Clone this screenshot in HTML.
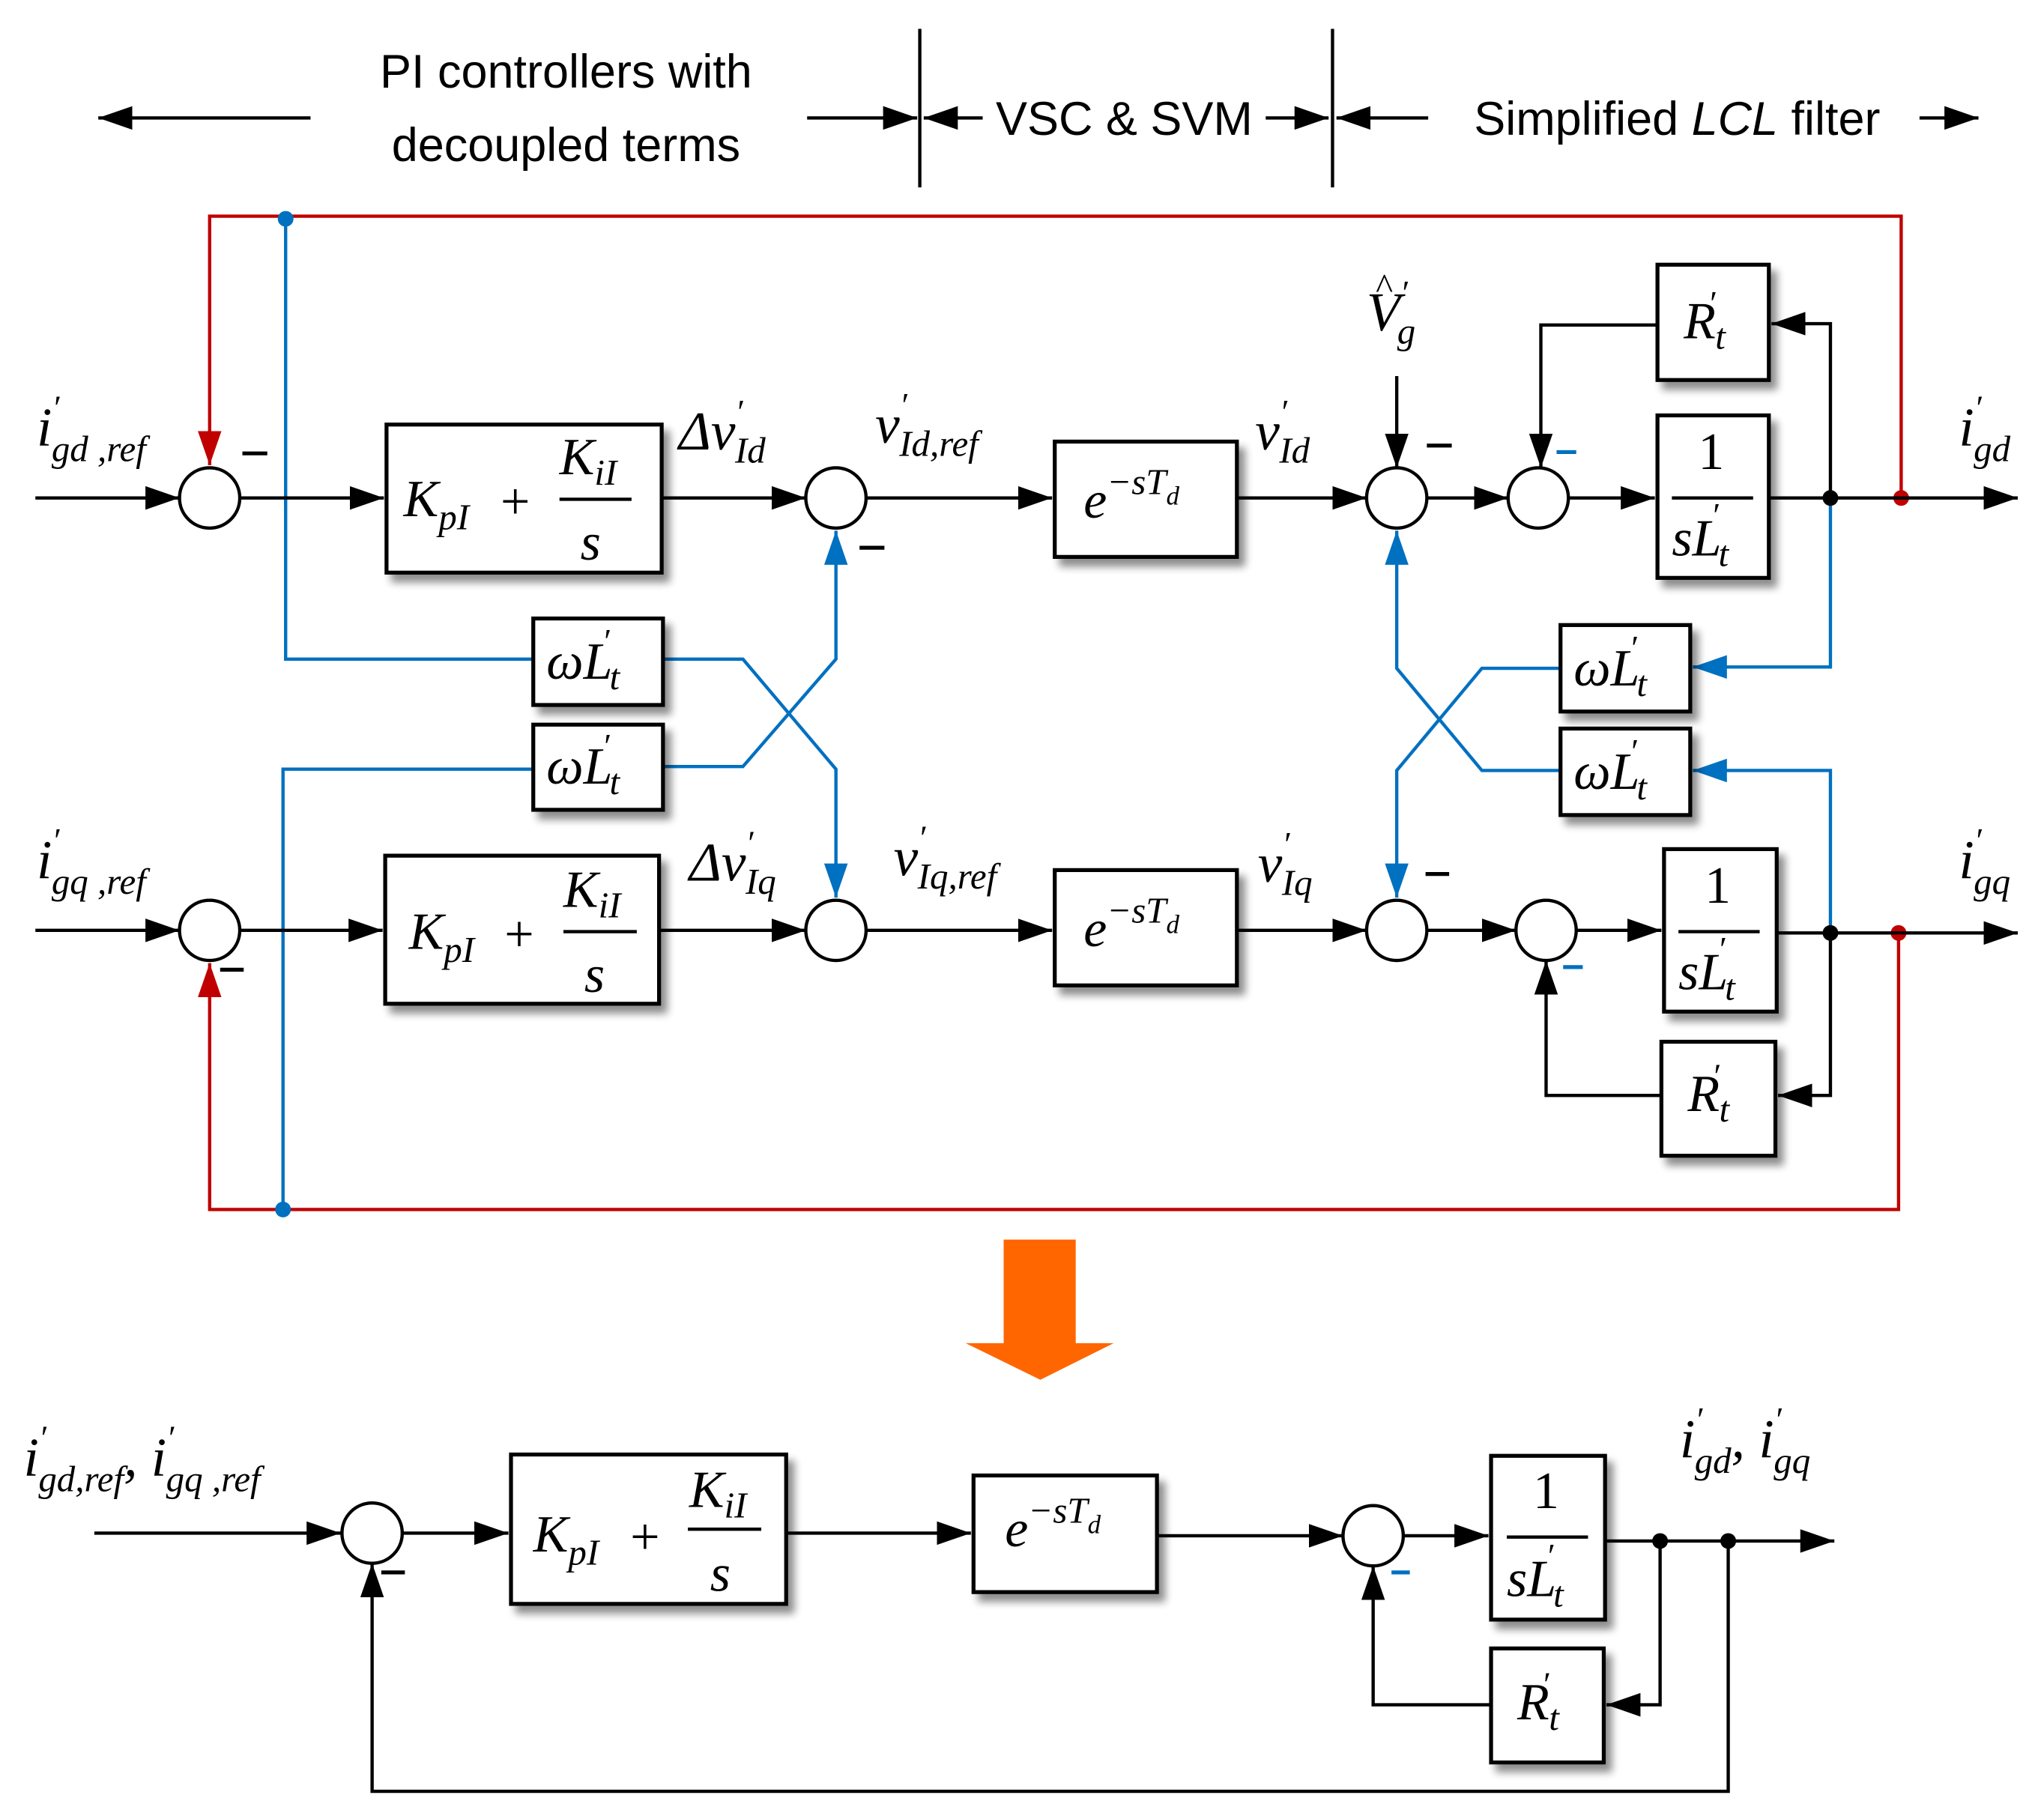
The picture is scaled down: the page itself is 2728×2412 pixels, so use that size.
<!DOCTYPE html>
<html><head><meta charset="utf-8"><style>
html,body{margin:0;padding:0;background:#fff}
svg{display:block}
.t{font-family:"Liberation Serif",serif;font-style:italic;fill:#000}
.s{font-family:"Liberation Sans",sans-serif;fill:#000}
</style></head><body>
<svg width="2728" height="2412" viewBox="0 0 1560 1379" preserveAspectRatio="none" xmlns="http://www.w3.org/2000/svg">
<defs>
<marker id="a" viewBox="0 0 26 18" refX="26" refY="9" markerWidth="26" markerHeight="18" orient="auto" markerUnits="userSpaceOnUse"><path d="M0,0L26,9L0,18z" fill="#000"/></marker>
<marker id="ab" viewBox="0 0 26 18" refX="26" refY="9" markerWidth="26" markerHeight="18" orient="auto" markerUnits="userSpaceOnUse"><path d="M0,0L26,9L0,18z" fill="#0070c0"/></marker>
<marker id="ar" viewBox="0 0 26 18" refX="26" refY="9" markerWidth="26" markerHeight="18" orient="auto" markerUnits="userSpaceOnUse"><path d="M0,0L26,9L0,18z" fill="#c00000"/></marker>
<filter id="sh" x="-10%" y="-10%" width="130%" height="130%"><feGaussianBlur in="SourceAlpha" stdDeviation="3"/><feOffset dx="5" dy="6"/><feComponentTransfer><feFuncA type="linear" slope="0.45"/></feComponentTransfer><feMerge><feMergeNode/><feMergeNode in="SourceGraphic"/></feMerge></filter>
</defs>

<g stroke="#000" stroke-width="2.5" fill="none">
<line x1="237" y1="90" x2="75" y2="90" marker-end="url(#a)"/>
<line x1="616" y1="90" x2="700" y2="90" marker-end="url(#a)"/>
<line x1="702" y1="22" x2="702" y2="143"/>
<line x1="1017" y1="22" x2="1017" y2="143"/>
<line x1="750" y1="90" x2="705" y2="90" marker-end="url(#a)"/>
<line x1="966" y1="90" x2="1014" y2="90" marker-end="url(#a)"/>
<line x1="1090" y1="90" x2="1020" y2="90" marker-end="url(#a)"/>
<line x1="1465" y1="90" x2="1510" y2="90" marker-end="url(#a)"/>
</g>
<text class="s" x="432" y="67" font-size="36" text-anchor="middle">PI controllers with</text>
<text class="s" x="432" y="123" font-size="36" text-anchor="middle">decoupled terms</text>
<text class="s" x="858" y="103" font-size="36" text-anchor="middle">VSC &amp; SVM</text>
<text class="s" x="1280" y="103" font-size="36" text-anchor="middle">Simplified <tspan font-style="italic">LCL</tspan> filter</text>

<g stroke="#c00000" stroke-width="2.5" fill="none">
<polyline points="1451,380 1451,165 160,165 160,355" marker-end="url(#ar)"/>
<polyline points="1449,712 1449,923 160,923 160,735" marker-end="url(#ar)"/>
</g>
<circle cx="1451" cy="380" r="6" fill="#c00000"/>
<circle cx="1449" cy="712" r="6" fill="#c00000"/>

<g stroke="#0070c0" stroke-width="2.5" fill="none">
<polyline points="218,167 218,503 407,503"/>
<polyline points="407,587 216,587 216,923"/>
<polyline points="506,503 567,503 638,587 638,685" marker-end="url(#ab)"/>
<polyline points="506,585 567,585 638,503 638,405" marker-end="url(#ab)"/>
<polyline points="1397,380 1397,509 1292,509" marker-end="url(#ab)"/>
<polyline points="1397,712 1397,588 1292,588" marker-end="url(#ab)"/>
<polyline points="1191,510 1131,510 1066,588 1066,685" marker-end="url(#ab)"/>
<polyline points="1191,588 1131,588 1066,510 1066,405" marker-end="url(#ab)"/>
</g>
<circle cx="218" cy="167" r="6" fill="#0070c0"/>
<circle cx="216" cy="923" r="6" fill="#0070c0"/>

<g stroke="#000" stroke-width="2.5" fill="none">
<line x1="27" y1="380" x2="137" y2="380" marker-end="url(#a)"/>
<line x1="183" y1="380" x2="293" y2="380" marker-end="url(#a)"/>
<line x1="505" y1="380" x2="615" y2="380" marker-end="url(#a)"/>
<line x1="661" y1="380" x2="803" y2="380" marker-end="url(#a)"/>
<line x1="944" y1="380" x2="1043" y2="380" marker-end="url(#a)"/>
<line x1="1089" y1="380" x2="1151" y2="380" marker-end="url(#a)"/>
<line x1="1197" y1="380" x2="1263" y2="380" marker-end="url(#a)"/>
<line x1="1350" y1="380" x2="1540" y2="380" marker-end="url(#a)"/>
<polyline points="1397,380 1397,247 1352,247" marker-end="url(#a)"/>
<polyline points="1265,248 1176,248 1176,357" marker-end="url(#a)"/>
<line x1="1066" y1="287" x2="1066" y2="357" marker-end="url(#a)"/>

<line x1="27" y1="710" x2="137" y2="710" marker-end="url(#a)"/>
<line x1="183" y1="710" x2="292" y2="710" marker-end="url(#a)"/>
<line x1="503" y1="710" x2="615" y2="710" marker-end="url(#a)"/>
<line x1="661" y1="710" x2="803" y2="710" marker-end="url(#a)"/>
<line x1="944" y1="710" x2="1043" y2="710" marker-end="url(#a)"/>
<line x1="1089" y1="710" x2="1157" y2="710" marker-end="url(#a)"/>
<line x1="1203" y1="710" x2="1268" y2="710" marker-end="url(#a)"/>
<line x1="1356" y1="712" x2="1540" y2="712" marker-end="url(#a)"/>
<polyline points="1397,712 1397,836 1357,836" marker-end="url(#a)"/>
<polyline points="1268,836 1180,836 1180,733" marker-end="url(#a)"/>

<line x1="72" y1="1170" x2="260" y2="1170" marker-end="url(#a)"/>
<line x1="307" y1="1170" x2="388" y2="1170" marker-end="url(#a)"/>
<line x1="600" y1="1170" x2="741" y2="1170" marker-end="url(#a)"/>
<line x1="883" y1="1172" x2="1025" y2="1172" marker-end="url(#a)"/>
<line x1="1071" y1="1172" x2="1136" y2="1172" marker-end="url(#a)"/>
<line x1="1225" y1="1176" x2="1400" y2="1176" marker-end="url(#a)"/>
<polyline points="1267,1176 1267,1301 1226,1301" marker-end="url(#a)"/>
<polyline points="1138,1301 1048,1301 1048,1195" marker-end="url(#a)"/>
<polyline points="1319,1176 1319,1367 284,1367 284,1193" marker-end="url(#a)"/>
</g>
<circle cx="1397" cy="380" r="6"/><circle cx="1397" cy="712" r="6"/>
<circle cx="1267" cy="1176" r="6"/><circle cx="1319" cy="1176" r="6"/>

<g stroke="#000" stroke-width="2.5" fill="#fff">
<circle cx="160" cy="380" r="23"/><circle cx="638" cy="380" r="23"/><circle cx="1066" cy="380" r="23"/><circle cx="1174" cy="380" r="23"/>
<circle cx="160" cy="710" r="23"/><circle cx="638" cy="710" r="23"/><circle cx="1066" cy="710" r="23"/><circle cx="1180" cy="710" r="23"/>
<circle cx="284" cy="1170" r="23"/><circle cx="1048" cy="1172" r="23"/>
</g>
<g stroke-width="3">
<line x1="185" y1="346" x2="204" y2="346" stroke="#000"/>
<line x1="656" y1="418" x2="675" y2="418" stroke="#000"/>
<line x1="1089" y1="340" x2="1108" y2="340" stroke="#000"/>
<line x1="1188" y1="345" x2="1203" y2="345" stroke="#0070c0"/>
<line x1="168" y1="740" x2="186" y2="740" stroke="#000"/>
<line x1="1088" y1="667" x2="1106" y2="667" stroke="#000"/>
<line x1="1193" y1="738" x2="1208" y2="738" stroke="#0070c0"/>
<line x1="291" y1="1200" x2="309" y2="1200" stroke="#000"/>
<line x1="1062" y1="1200" x2="1076" y2="1200" stroke="#0070c0"/>
</g>

<g stroke="#000" stroke-width="3" fill="#fff" filter="url(#sh)">
<rect x="295" y="324" width="210" height="113"/>
<rect x="805" y="337" width="139" height="88"/>
<rect x="1265" y="317" width="85" height="124"/>
<rect x="1265" y="202" width="85" height="88"/>
<rect x="407" y="472" width="99" height="66"/>
<rect x="407" y="553" width="99" height="65"/>
<rect x="1191" y="477" width="99" height="66"/>
<rect x="1191" y="556" width="99" height="66"/>
<rect x="294" y="653" width="209" height="113"/>
<rect x="805" y="664" width="139" height="88"/>
<rect x="1270" y="648" width="86" height="124"/>
<rect x="1268" y="795" width="87" height="87"/>
<rect x="390" y="1110" width="210" height="114"/>
<rect x="743" y="1126" width="140" height="89"/>
<rect x="1138" y="1111" width="87" height="125"/>
<rect x="1138" y="1258" width="86" height="87"/>
</g>

<g class="t">
<text x="308" y="394" font-size="40">K<tspan font-size="28" dy="10">pI</tspan></text>
<text x="382" y="396" font-size="40" font-style="normal">+</text>
<text x="427" y="362" font-size="40">K<tspan font-size="28" dy="8">iI</tspan></text>
<text x="443" y="427" font-size="40">s</text>
<text x="312" y="724" font-size="40">K<tspan font-size="28" dy="10">pI</tspan></text>
<text x="385" y="726" font-size="40" font-style="normal">+</text>
<text x="430" y="692" font-size="40">K<tspan font-size="28" dy="8">iI</tspan></text>
<text x="446" y="757" font-size="40">s</text>
<text x="407" y="1184" font-size="40">K<tspan font-size="28" dy="10">pI</tspan></text>
<text x="481" y="1186" font-size="40" font-style="normal">+</text>
<text x="526" y="1150" font-size="40">K<tspan font-size="28" dy="8">iI</tspan></text>
<text x="542" y="1214" font-size="40">s</text>
</g>
<g stroke="#000" stroke-width="2.5">
<line x1="427" y1="381" x2="482" y2="381"/>
<line x1="430" y1="711" x2="486" y2="711"/>
<line x1="525" y1="1167" x2="581" y2="1167"/>
<line x1="1276" y1="380" x2="1338" y2="380"/>
<line x1="1281" y1="711" x2="1343" y2="711"/>
<line x1="1150" y1="1173" x2="1212" y2="1173"/>
</g>
<g class="t" font-size="40">
<text x="827" y="395">e<tspan font-size="28" dy="-18">−sT</tspan><tspan font-size="20" dy="8">d</tspan></text>
<text x="827" y="722">e<tspan font-size="28" dy="-18">−sT</tspan><tspan font-size="20" dy="8">d</tspan></text>
<text x="767" y="1180">e<tspan font-size="28" dy="-18">−sT</tspan><tspan font-size="20" dy="8">d</tspan></text>
<text x="1296" y="358" font-style="normal">1</text>
<text x="1276" y="424">sL<tspan font-size="26" dy="-22" dx="-8">′</tspan><tspan font-size="28" dy="30">t</tspan></text>
<text x="1301" y="689" font-style="normal">1</text>
<text x="1281" y="755">sL<tspan font-size="26" dy="-22" dx="-8">′</tspan><tspan font-size="28" dy="30">t</tspan></text>
<text x="1170" y="1151" font-style="normal">1</text>
<text x="1150" y="1218">sL<tspan font-size="26" dy="-22" dx="-8">′</tspan><tspan font-size="28" dy="30">t</tspan></text>
<text x="1285" y="258">R<tspan font-size="26" dy="-18" dx="-6">′</tspan><tspan font-size="28" dy="26">t</tspan></text>
<text x="1288" y="848">R<tspan font-size="26" dy="-18" dx="-6">′</tspan><tspan font-size="28" dy="26">t</tspan></text>
<text x="1158" y="1312">R<tspan font-size="26" dy="-18" dx="-6">′</tspan><tspan font-size="28" dy="26">t</tspan></text>
<text x="417" y="518">ωL<tspan font-size="26" dy="-20" dx="-8">′</tspan><tspan font-size="28" dy="28">t</tspan></text>
<text x="417" y="598">ωL<tspan font-size="26" dy="-20" dx="-8">′</tspan><tspan font-size="28" dy="28">t</tspan></text>
<text x="1201" y="523">ωL<tspan font-size="26" dy="-20" dx="-8">′</tspan><tspan font-size="28" dy="28">t</tspan></text>
<text x="1201" y="602">ωL<tspan font-size="26" dy="-20" dx="-8">′</tspan><tspan font-size="28" dy="28">t</tspan></text>
</g>
<g class="t" font-size="42">
<text x="28" y="340">i<tspan font-size="26" dy="-20">′</tspan><tspan font-size="28" dy="32" dx="-6">gd ,ref</tspan></text>
<text x="28" y="670">i<tspan font-size="26" dy="-20">′</tspan><tspan font-size="28" dy="32" dx="-6">gq ,ref</tspan></text>
<text x="518" y="343">Δv<tspan font-size="26" dy="-20">′</tspan><tspan font-size="28" dy="30" dx="-6">Id</tspan></text>
<text x="526" y="672">Δv<tspan font-size="26" dy="-20">′</tspan><tspan font-size="28" dy="30" dx="-6">Iq</tspan></text>
<text x="668" y="338">v<tspan font-size="26" dy="-20">′</tspan><tspan font-size="28" dy="30" dx="-6">Id,ref</tspan></text>
<text x="682" y="668">v<tspan font-size="26" dy="-20">′</tspan><tspan font-size="28" dy="30" dx="-6">Iq,ref</tspan></text>
<text x="958" y="343">v<tspan font-size="26" dy="-20">′</tspan><tspan font-size="28" dy="30" dx="-6">Id</tspan></text>
<text x="960" y="673">v<tspan font-size="26" dy="-20">′</tspan><tspan font-size="28" dy="30" dx="-6">Iq</tspan></text>
<text x="1043" y="252">V<tspan font-size="26" dy="-20">′</tspan><tspan font-size="28" dy="30" dx="-8">g</tspan></text>
<text x="1050" y="228" font-size="28" font-style="normal">^</text>
<text x="1495" y="340">i<tspan font-size="26" dy="-20">′</tspan><tspan font-size="28" dy="32" dx="-6">gd</tspan></text>
<text x="1495" y="670">i<tspan font-size="26" dy="-20">′</tspan><tspan font-size="28" dy="32" dx="-6">gq</tspan></text>
<text x="18" y="1126">i<tspan font-size="26" dy="-20">′</tspan><tspan font-size="28" dy="32" dx="-6">gd,ref</tspan><tspan dy="-12">, i</tspan><tspan font-size="26" dy="-20">′</tspan><tspan font-size="28" dy="32" dx="-6">gq ,ref</tspan></text>
<text x="1282" y="1112">i<tspan font-size="26" dy="-20">′</tspan><tspan font-size="28" dy="32" dx="-6">gd</tspan><tspan dy="-12">, i</tspan><tspan font-size="26" dy="-20">′</tspan><tspan font-size="28" dy="32" dx="-6">gq</tspan></text>
</g>

<path d="M766,946 L821,946 L821,1025 L850,1025 L794,1053 L737,1025 L766,1025 Z" fill="#ff6600"/>
</svg>
</body></html>
